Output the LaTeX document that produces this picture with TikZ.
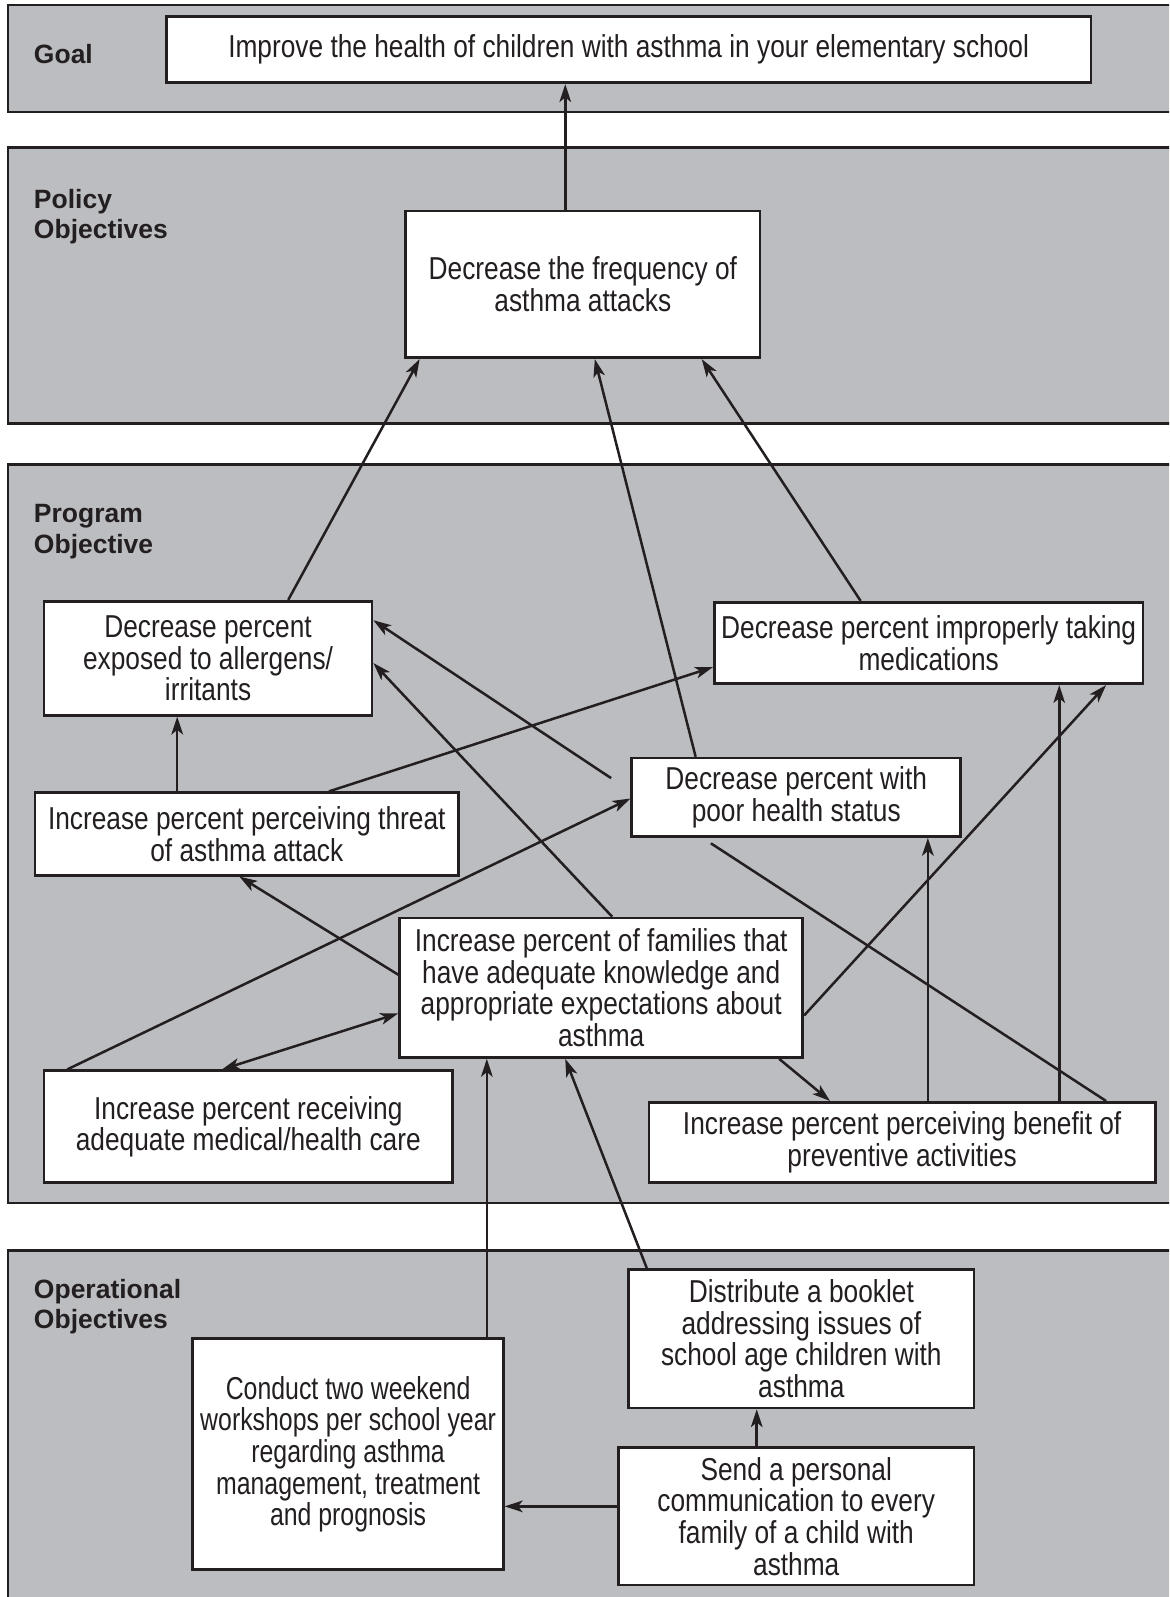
\documentclass[tikz,border=0pt]{standalone}
\usepackage{fontspec}
\setmainfont{Liberation Sans}
\newfontfamily\boxfam{Liberation Sans}[FakeStretch=0.83]
\newfontfamily\boxfamn{Liberation Sans}[FakeStretch=0.785]
\usetikzlibrary{arrows.meta,calc}
\definecolor{bandgray}{RGB}{188,189,193}
\definecolor{linec}{RGB}{35,31,32}
\begin{document}
\begin{tikzpicture}[x=0.02cm,y=-0.02cm,
  band/.style={draw=linec,line width=1.4pt,fill=bandgray},
  box/.style={draw=linec,line width=1.5pt,fill=white,align=center,text=linec,
    font=\boxfam\fontsize{17.7}{17.7}\selectfont,inner sep=0pt,anchor=north west},
  lab/.style={font=\bfseries\fontsize{14.8}{16.8}\selectfont,align=left,inner sep=0pt,
    anchor=base west,text=linec},
  tip/.style={},
  arr/.style={draw=linec,line width=1.4pt,-{Stealth[length=10pt,width=6.5pt,inset=2.6pt]}},
  darr/.style={draw=linec,line width=1.4pt,{Stealth[length=10pt,width=6.5pt,inset=2.6pt]}-{Stealth[length=10pt,width=6.5pt,inset=2.6pt]}},
  plain/.style={draw=linec,line width=1.4pt}]
\useasboundingbox (0,0) rectangle (1148,1568);
\clip (0,0) rectangle (1148,1568);
% bands
\draw[band] (8,5) rectangle (1170,110);
\draw[band] (8,145) rectangle (1170,416);
\draw[band] (8,456) rectangle (1170,1181);
\draw[band] (8,1228) rectangle (1170,1590);
% labels (anchor = baseline of last line)
\node[lab] (lgoal) at (33,62) {Goal};
\node[lab] (lpol) at (33,234) {Policy\\Objectives};
\node[lab] (lprog) at (33,543) {Program\\Objective};
\node[lab] (lop) at (33,1304) {Operational\\Objectives};
% boxes
\node[box,minimum width=18.16cm,minimum height=1.3cm] (goal) at (162,15)
  {Improve the health of children with asthma in your elementary school};
\node[box,minimum width=6.96cm,minimum height=2.88cm] (freq) at (397,206)
  {Decrease the frequency of\\asthma attacks};
\node[box,minimum width=6.44cm,minimum height=2.24cm] (allerg) at (42,589)
  {Decrease percent\\exposed to allergens/\\irritants};
\node[box,minimum width=8.42cm,minimum height=1.6cm] (meds) at (700,590)
  {Decrease percent improperly taking\\medications};
\node[box,minimum width=8.32cm,minimum height=1.62cm] (threat) at (33,777)
  {Increase percent perceiving threat\\of asthma attack};
\node[box,minimum width=6.46cm,minimum height=1.54cm] (poor) at (619,743)
  {Decrease percent with\\poor health status};
\node[box,minimum width=7.92cm,minimum height=2.74cm] (know) at (391,900)
  {Increase percent of families that\\have adequate knowledge and\\appropriate expectations about\\asthma};
\node[box,minimum width=8.02cm,minimum height=2.2cm] (care) at (42,1050)
  {Increase percent receiving\\adequate medical/health care};
\node[box,minimum width=9.94cm,minimum height=1.58cm] (benefit) at (636,1081)
  {Increase percent perceiving benefit of\\preventive activities};
\node[box,minimum width=6.78cm,minimum height=2.72cm] (booklet) at (616,1245)
  {Distribute a booklet\\addressing issues of\\school age children with\\asthma};
\node[box,minimum width=6.1cm,minimum height=4.54cm,font=\boxfamn\fontsize{17.7}{17.7}\selectfont] (workshop) at (188,1313)
  {Conduct two weekend\\workshops per school year\\regarding asthma\\management, treatment\\and prognosis};
\node[box,minimum width=6.98cm,minimum height=2.7cm] (send) at (606,1420)
  {Send a personal\\communication to every\\family of a child with\\asthma};
% free ends
\coordinate (poorgap) at (600,764);
\coordinate (poorlow) at (698,828);
% connectors
\coordinate (f1) at ($(freq.north west)+(158,0)$);
\draw[arr] (f1) -- (f1 |- goal.south);
\draw[arr] ($(allerg.north west)+(241,0)$) -- ($(freq.south west)+(15,0)$);
\draw[arr] ($(poor.north west)+(64,0)$) -- ($(freq.south west)+(187,0)$);
\draw[arr] ($(meds.north west)+(145,0)$) -- ($(freq.south west)+(292,0)$);
\coordinate (t1) at ($(threat.north west)+(141,0)$);
\draw[arr] (t1) -- (t1 |- allerg.south);
\draw[arr] ($(threat.north west)+(290,0)$) -- ($(meds.north west)+(0,65)$);
\draw[arr] (poorgap) -- ($(allerg.north east)+(0,20)$);
\draw[arr] ($(know.north west)+(210,0)$) -- ($(allerg.north east)+(0,62)$);
\draw[arr] ($(know.north west)+(0,57)$) -- ($(threat.south west)+(202,0)$);
\draw[arr] ($(care.north west)+(24,0)$) -- ($(poor.north west)+(0,41)$);
\draw[darr] ($(care.north west)+(176,0)$) -- ($(know.north west)+(0,95)$);
\draw[arr] ($(know.north east)+(0,97)$) -- ($(meds.south west)+(386,0)$);
\draw[arr] ($(know.south west)+(374,0)$) -- ($(benefit.north west)+(179,0)$);
\coordinate (b1) at ($(benefit.north west)+(275,0)$);
\draw[arr] (b1) -- (b1 |- poor.south);
\coordinate (b2) at ($(benefit.north west)+(404,0)$);
\draw[arr] (b2) -- (b2 |- meds.south);
\draw[plain] ($(benefit.north west)+(450,0)$) -- (poorlow);
\coordinate (w1) at ($(workshop.north west)+(290,0)$);
\draw[arr] (w1) -- (w1 |- know.south);
\draw[arr] ($(booklet.north west)+(19,0)$) -- ($(know.south west)+(164,0)$);
\coordinate (s1) at ($(send.north west)+(137,0)$);
\draw[arr] (s1) -- (s1 |- booklet.south);
\coordinate (s2) at ($(send.north west)+(0,59)$);
\draw[arr] (s2) -- (s2 -| workshop.east);
\end{tikzpicture}
\end{document}
